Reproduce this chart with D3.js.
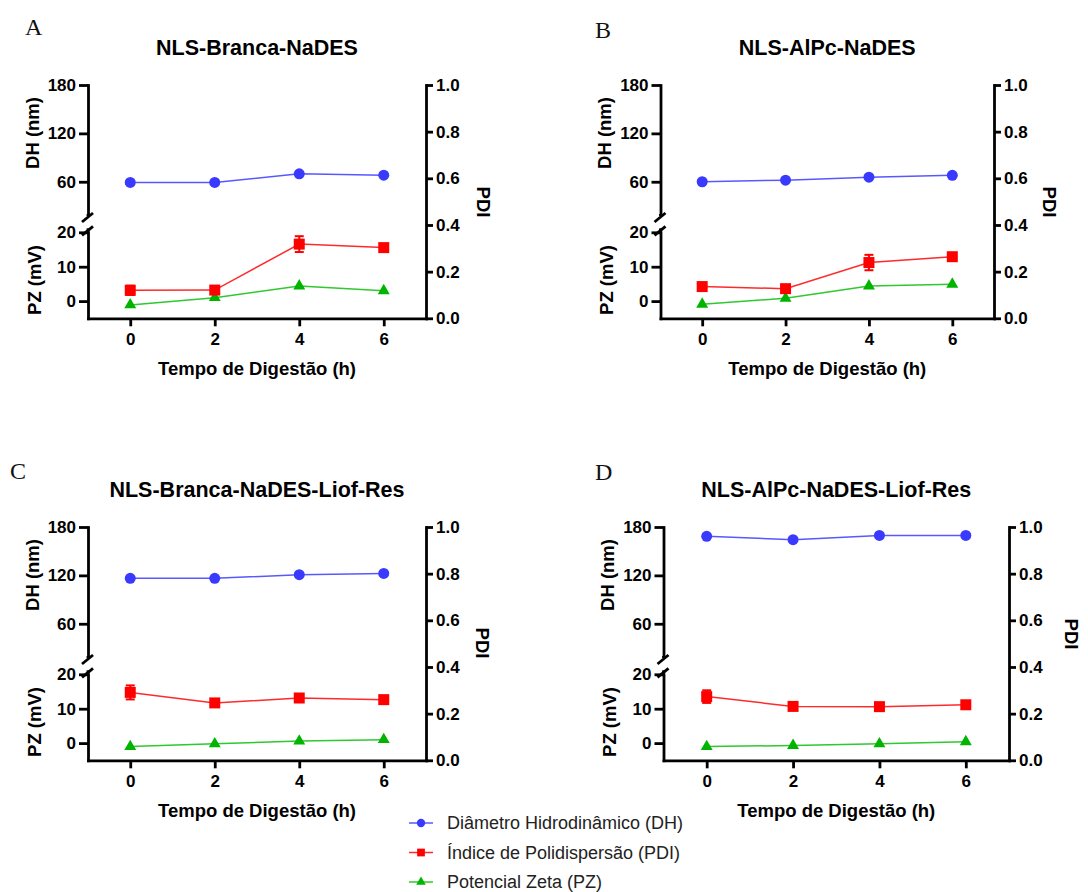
<!DOCTYPE html>
<html lang="pt">
<head>
  <meta charset="utf-8"/>
  <title>Digestão - NLS</title>
  <script src="https://cdnjs.cloudflare.com/ajax/libs/d3/7.8.5/d3.min.js"></script>
  <style>
    body { margin: 0; background: #fff; }
    svg { display: block; font-family: "Liberation Sans", Arial, sans-serif; }
    .axis path, .axis line { stroke: #000; stroke-width: 2.8; }
    .axis text { font-size: 17px; font-weight: bold; fill: #000; }
  </style>
</head>
<body>
<svg width="1088" height="892"></svg>
<script>
  // tempo de digestão (h)
  var times = [0, 2, 4, 6];

  var panelLetters = ["A", "B", "C", "D"];
  var panelTitles = ["NLS-Branca-NaDES", "NLS-AlPc-NaDES", "NLS-Branca-NaDES-Liof-Res", "NLS-AlPc-NaDES-Liof-Res"];

  // diâmetro hidrodinâmico (nm)
  var dhA = [59.2, 59.2, 69.8, 68.1];
  var dhB = [60, 62, 65.7, 68];
  var dhC = [116.3, 116.3, 120.8, 122.4];
  var dhD = [168.4, 164.3, 169.6, 169.6];

  // índice de polidispersão
  var pdiA = [0.12, 0.121, 0.318, 0.303];
  var pdiB = [0.136, 0.127, 0.239, 0.264];
  var pdiC = [0.291, 0.246, 0.267, 0.26];
  var pdiD = [0.273, 0.231, 0.230, 0.238];

  var pdiErrA = [0.02, 0.005, 0.034, 0.006];
  var pdiErrB = [0.01, 0.005, 0.033, 0.012];
  var pdiErrC = [0.03, 0.005, 0.008, 0.005];
  var pdiErrD = [0.027, 0.005, 0.008, 0.01];

  // potencial zeta (mV)
  var pzA = [-1.1, 1.0, 4.4, 3.0];
  var pzB = [-0.9, 0.8, 4.4, 4.9];
  var pzC = [-1.0, -0.2, 0.6, 1.0];
  var pzD = [-1.0, -0.7, -0.2, 0.4];

  var dhTicks = [60, 120, 180];
  var pzTicks = [0, 10, 20];
  var pdiTicks = [0, 0.2, 0.4, 0.6, 0.8, 1.0];
  var legendLabels = ["Diâmetro Hidrodinâmico (DH)", "Índice de Polidispersão (PDI)", "Potencial Zeta (PZ)"];

  var dhSets = [dhA, dhB, dhC, dhD];
  var pdiSets = [pdiA, pdiB, pdiC, pdiD];
  var errSets = [pdiErrA, pdiErrB, pdiErrC, pdiErrD];
  var pzSets = [pzA, pzB, pzC, pzD];

  // posição de cada painel na figura
  var layout = [
    {left: 88, right: 426, top: 85, lx: 25, ly: 35, pdiDx: 57, pdiDy: 117},
    {left: 660.5, right: 994, top: 85, lx: 595, ly: 38, pdiDx: 55, pdiDy: 117},
    {left: 88, right: 426, top: 527, lx: 10, ly: 479, pdiDx: 56, pdiDy: 116},
    {left: 663.5, right: 1009, top: 527, lx: 595, ly: 480, pdiDx: 62, pdiDy: 107}
  ];

  var colDH = "#3a3aff", colDHLine = "#5858ff";
  var colPDI = "#ff0000", colPDILine = "#ff2a2a";
  var colPZ = "#00b400", colPZLine = "#30c830";

  var svg = d3.select("svg");
  svg.append("rect").attr("width", 1088).attr("height", 892).attr("fill", "#fff");

  var circle = d3.symbol().type(d3.symbolCircle).size(95);
  var square = d3.symbol().type(d3.symbolSquare).size(121);
  var triangle = d3.symbol().type(d3.symbolTriangle).size(62);

  layout.forEach(function(p, k) {
    var g = svg.append("g");
    var bottom = p.top + 233.3;

    var x = d3.scaleLinear().domain([-1, 7]).range([p.left, p.right]);
    var yDH = d3.scaleLinear().domain([20, 180]).range([p.top + 129, p.top]);
    var yPZ = d3.scaleLinear().domain([-5, 20]).range([bottom, p.top + 147.3]);
    var yPDI = d3.scaleLinear().domain([0, 1]).range([bottom, p.top]);

    // letra e título
    g.append("text").attr("x", p.lx).attr("y", p.ly)
      .style("font-family", "'Liberation Serif', 'Times New Roman', serif")
      .style("font-size", "24px").attr("fill", "#111").text(panelLetters[k]);
    g.append("text").attr("x", (p.left + p.right) / 2).attr("y", p.top - 30)
      .attr("text-anchor", "middle").style("font-size", "21.5px").style("font-weight", "bold")
      .text(panelTitles[k]);

    // eixos
    g.append("g").attr("class", "axis").attr("transform", "translate(" + p.left + ",0)")
      .call(d3.axisLeft(yDH).tickValues(dhTicks).tickSize(9).tickSizeOuter(0).tickPadding(3));
    g.append("g").attr("class", "axis").attr("transform", "translate(" + p.left + ",0)")
      .call(d3.axisLeft(yPZ).tickValues(pzTicks).tickSize(9).tickSizeOuter(0).tickPadding(3));
    g.append("g").attr("class", "axis").attr("transform", "translate(" + p.right + ",0)")
      .call(d3.axisRight(yPDI).tickValues(pdiTicks).tickFormat(d3.format(".1f")).tickSize(7).tickSizeOuter(0).tickPadding(3));
    g.append("g").attr("class", "axis").attr("transform", "translate(0," + bottom + ")")
      .call(d3.axisBottom(x).tickValues(times).tickSize(8).tickSizeOuter(0).tickPadding(7));
    g.selectAll(".axis .domain").attr("stroke-linecap", "square");

    // marcas de quebra do eixo esquerdo
    var b1 = yDH(20), b2 = yPZ(20);
    g.append("line").attr("x1", p.left).attr("x2", p.left).attr("y1", b1).attr("y2", b1 + 2)
      .attr("stroke", "#000").attr("stroke-width", 2.8);
    g.append("line").attr("x1", p.left - 6).attr("y1", b1 + 8).attr("x2", p.left + 5).attr("y2", b1 - 1)
      .attr("stroke", "#000").attr("stroke-width", 2.8);
    g.append("line").attr("x1", p.left).attr("x2", p.left).attr("y1", b2 - 4).attr("y2", b2)
      .attr("stroke", "#000").attr("stroke-width", 2.8);
    g.append("line").attr("x1", p.left - 6).attr("y1", b2 + 3).attr("x2", p.left + 5).attr("y2", b2 - 6)
      .attr("stroke", "#000").attr("stroke-width", 2.8);

    // rótulos dos eixos
    g.append("text").attr("transform", "translate(" + (p.left - 56) + "," + (p.top + 48) + ") rotate(-90)")
      .attr("text-anchor", "middle").attr("dominant-baseline", "central")
      .style("font-size", "18.5px").style("font-weight", "bold").text("DH (nm)");
    g.append("text").attr("transform", "translate(" + (p.left - 54) + "," + (p.top + 195) + ") rotate(-90)")
      .attr("text-anchor", "middle").attr("dominant-baseline", "central")
      .style("font-size", "18.5px").style("font-weight", "bold").text("PZ (mV)");
    g.append("text").attr("transform", "translate(" + (p.right + p.pdiDx) + "," + (p.top + p.pdiDy) + ") rotate(90)")
      .attr("text-anchor", "middle").attr("dominant-baseline", "central")
      .style("font-size", "18.5px").style("font-weight", "bold").text("PDI");
    g.append("text").attr("x", (p.left + p.right) / 2).attr("y", bottom + 57)
      .attr("text-anchor", "middle").style("font-size", "18.5px").style("font-weight", "bold")
      .text("Tempo de Digestão (h)");

    // séries
    var series = [
      {vals: dhSets[k], y: yDH, col: colDH, line: colDHLine, sym: circle},
      {vals: pzSets[k], y: yPZ, col: colPZ, line: colPZLine, sym: triangle},
      {vals: pdiSets[k], y: yPDI, col: colPDI, line: colPDILine, sym: square, err: errSets[k]}
    ];
    series.forEach(function(s) {
      var pts = times.map(function(t, i) { return [t, s.vals[i], s.err ? s.err[i] : 0]; });
      g.append("path").datum(pts)
        .attr("d", d3.line().x(function(d) { return x(d[0]); }).y(function(d) { return s.y(d[1]); }))
        .attr("fill", "none").attr("stroke", s.line).attr("stroke-width", 1.5);
      if (s.err) {
        var eb = g.selectAll(null).data(pts).enter().append("g").attr("stroke", s.col).attr("stroke-width", 2);
        eb.append("line").attr("x1", function(d) { return x(d[0]); }).attr("x2", function(d) { return x(d[0]); })
          .attr("y1", function(d) { return s.y(d[1] - d[2]); }).attr("y2", function(d) { return s.y(d[1] + d[2]); });
        eb.append("line").attr("x1", function(d) { return x(d[0]) - 4.5; }).attr("x2", function(d) { return x(d[0]) + 4.5; })
          .attr("y1", function(d) { return s.y(d[1] + d[2]); }).attr("y2", function(d) { return s.y(d[1] + d[2]); });
        eb.append("line").attr("x1", function(d) { return x(d[0]) - 4.5; }).attr("x2", function(d) { return x(d[0]) + 4.5; })
          .attr("y1", function(d) { return s.y(d[1] - d[2]); }).attr("y2", function(d) { return s.y(d[1] - d[2]); });
      }
      g.selectAll(null).data(pts).enter().append("path")
        .attr("d", s.sym)
        .attr("transform", function(d) { return "translate(" + x(d[0]) + "," + s.y(d[1]) + ")"; })
        .attr("fill", s.col);
    });
  });

  // legenda
  var legCols = [colDH, colPDI, colPZ];
  var legLines = [colDHLine, colPDILine, colPZLine];
  var legSyms = [
    d3.symbol().type(d3.symbolCircle).size(55),
    d3.symbol().type(d3.symbolSquare).size(60),
    d3.symbol().type(d3.symbolTriangle).size(40)
  ];
  var legend = svg.append("g").attr("transform", "translate(409,823)");
  var rows = legend.selectAll("g").data(legendLabels).enter().append("g")
    .attr("transform", function(d, i) { return "translate(0," + (i * 29.5) + ")"; });
  rows.append("line").attr("x1", 0).attr("x2", 24).attr("y1", 0).attr("y2", 0)
    .attr("stroke", function(d, i) { return legLines[i]; }).attr("stroke-width", 1.5);
  rows.append("path").attr("d", function(d, i) { return legSyms[i](); })
    .attr("transform", "translate(12,0)").attr("fill", function(d, i) { return legCols[i]; });
  rows.append("text").attr("x", 38).attr("y", 0).attr("dominant-baseline", "central")
    .style("font-size", "18px").attr("fill", "#222").text(function(d) { return d; });
</script>
</body>
</html>
